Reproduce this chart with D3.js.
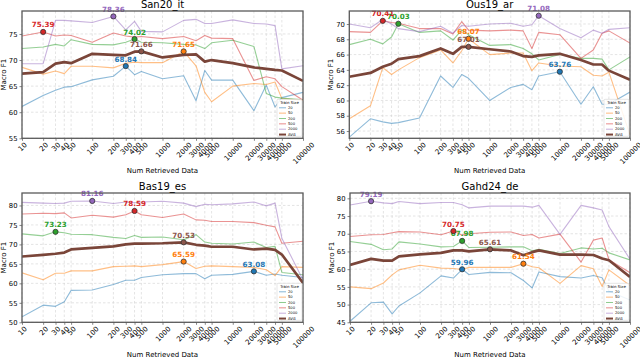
<!DOCTYPE html>
<meta charset="utf-8">
<script src="https://cdn.jsdelivr.net/npm/d3@7"></script>
<title>Train size vs retrieved data</title>
<style>
body { margin: 0; background: #fff; font-family: "DejaVu Sans", sans-serif; }
text { fill: #000; }
.grid line { stroke: #d2d2d2; stroke-width: 0.6; stroke-dasharray: 2.5,2; }
.frame { fill: none; stroke: #5a5a5a; stroke-width: 1.3; }
</style>
<body>
<svg id="chart" width="640" height="358"></svg>
<script>

var retrieved = [10, 20, 30, 40, 50, 100, 200, 300, 400, 500, 1000, 2000, 3000, 4000, 5000, 10000, 20000, 30000, 40000, 50000, 100000];
var trainSizes = ["20", "50", "200", "500", "2000", "AVG"];

var san20_20   = [61.1, 63.2, 64.2, 64.8, 64.9, 66.2, 66.9, 68.84, 67.2, 67.8, 66.4, 67.0, 62.2, 68.0, 66.15, 66.15, 60.3, 65.2, 61.0, 62.8, 63.8];
var san20_50   = [68.6, 67.3, 67.9, 67.4, 68.8, 68.8, 68.5, 69.4, 69.6, 69.5, 69.5, 71.65, 68.9, 63.8, 62.0, 65.0, 65.5, 65.3, 65.8, 62.6, 62.3];
var san20_200  = [72.2, 72.5, 73.0, 72.7, 73.9, 73.0, 72.9, 73.4, 74.02, 73.4, 73.3, 73.0, 72.9, 72.2, 73.3, 73.8, 72.6, 63.6, 62.9, 62.7, 62.4];
var san20_500  = [74.6, 75.39, 74.6, 74.8, 74.7, 73.4, 75.2, 74.6, 74.4, 74.5, 74.1, 74.5, 73.7, 74.7, 74.2, 74.1, 66.1, 66.8, 66.4, 64.9, 62.3];
var san20_2000 = [69.3, 69.3, 77.6, 77.6, 77.5, 77.2, 78.36, 75.8, 77.4, 75.5, 75.4, 77.6, 77.8, 77.0, 77.0, 77.7, 77.0, 76.9, 76.6, 68.3, 68.9];
var san20_avg  = [67.4, 67.7, 69.3, 69.6, 69.4, 71.2, 71.0, 70.9, 71.6, 71.66, 70.5, 71.0, 71.1, 69.7, 70.0, 69.4, 68.6, 68.3, 68.1, 68.0, 66.0];

var ous19_20   = [55.2, 57.6, 57.2, 57.0, 57.1, 57.7, 63.2, 61.7, 63.4, 62.9, 60.0, 61.7, 62.1, 61.4, 63.2, 63.76, 59.5, 61.8, 59.5, 59.5, 61.1];
var ous19_50   = [57.6, 59.3, 64.3, 63.4, 64.0, 65.6, 66.6, 64.9, 66.5, 68.07, 66.0, 66.2, 66.2, 63.9, 64.9, 64.5, 64.4, 63.3, 63.2, 63.7, 55.5];
var ous19_200  = [67.3, 68.0, 67.4, 68.3, 70.03, 68.9, 69.1, 67.9, 69.2, 68.6, 67.2, 67.3, 66.8, 66.1, 65.3, 66.0, 65.5, 65.5, 65.4, 64.0, 65.7];
var ous19_500  = [69.0, 68.9, 70.41, 70.2, 70.1, 69.4, 69.4, 68.7, 70.3, 69.2, 69.1, 69.2, 69.1, 66.8, 68.9, 68.6, 65.5, 66.6, 68.8, 69.1, 67.5];
var ous19_2000 = [70.0, 69.5, 70.6, 70.0, 69.4, 69.0, 69.7, 68.8, 69.8, 69.7, 70.0, 70.1, 69.7, 69.9, 71.08, 69.4, 68.2, 69.2, 68.8, 69.3, 69.5];
var ous19_avg  = [63.1, 63.6, 64.4, 64.8, 65.4, 65.8, 66.8, 66.1, 67.0, 67.01, 66.7, 66.4, 65.8, 65.7, 65.9, 66.1, 65.3, 64.7, 64.7, 63.9, 62.7];

var bas19_20   = [51.4, 54.4, 54.1, 55.3, 58.2, 58.3, 59.7, 60.8, 60.8, 61.5, 62.2, 62.5, 62.5, 61.2, 62.1, 62.3, 63.08, 62.1, 62.4, 62.1, 61.5];
var bas19_50   = [62.7, 60.9, 62.6, 62.6, 63.2, 63.2, 64.3, 64.4, 64.5, 64.3, 64.8, 65.59, 63.8, 64.4, 64.5, 64.3, 64.1, 63.5, 62.0, 64.3, 64.1];
var bas19_200  = [72.7, 72.2, 73.23, 73.0, 72.6, 72.5, 71.8, 71.5, 72.3, 71.8, 71.9, 71.2, 72.5, 70.6, 70.3, 70.1, 70.6, 69.2, 69.5, 62.8, 62.2];
var bas19_500  = [77.8, 78.0, 77.9, 78.1, 76.8, 77.5, 77.0, 77.6, 78.59, 77.6, 76.9, 77.8, 76.3, 76.2, 75.9, 75.9, 75.6, 74.9, 74.5, 70.3, 70.8];
var bas19_2000 = [80.8, 80.6, 80.5, 80.6, 81.1, 81.16, 80.5, 80.9, 80.7, 80.9, 81.1, 80.6, 79.7, 80.3, 80.2, 80.4, 80.9, 79.9, 80.6, 71.6, 60.9];
var bas19_avg  = [66.9, 67.3, 67.6, 67.9, 68.7, 69.1, 69.5, 70.0, 70.2, 70.2, 70.3, 70.53, 69.9, 69.7, 69.4, 69.4, 68.7, 68.9, 68.6, 67.4, 60.1];

var gahd24_20   = [45.3, 50.5, 50.7, 47.4, 49.6, 53.3, 58.1, 57.5, 59.96, 58.5, 59.1, 59.0, 56.8, 54.7, 59.2, 57.9, 57.5, 58.2, 57.6, 53.8, 51.3];
var gahd24_50   = [55.0, 54.5, 56.1, 58.4, 59.8, 61.1, 60.3, 60.2, 59.9, 60.5, 60.5, 60.5, 61.54, 60.7, 60.4, 56.0, 61.0, 60.1, 55.1, 59.8, 55.4];
var gahd24_200  = [67.8, 67.0, 65.5, 65.7, 67.7, 67.1, 66.3, 66.4, 67.98, 66.1, 66.2, 66.3, 66.3, 65.2, 65.6, 64.4, 66.0, 65.7, 65.9, 64.6, 62.6];
var gahd24_500  = [69.2, 69.7, 69.8, 70.3, 70.6, 70.5, 69.7, 70.75, 69.6, 70.0, 70.4, 70.5, 69.5, 69.8, 68.8, 69.9, 62.0, 68.2, 68.8, 62.7, 59.0];
var gahd24_2000 = [78.1, 79.19, 78.7, 78.5, 79.1, 78.5, 78.8, 78.8, 78.2, 77.3, 77.8, 77.8, 77.8, 77.5, 78.0, 69.8, 78.0, 77.3, 76.7, 72.0, 62.8];
var gahd24_avg  = [61.2, 62.9, 62.4, 62.4, 63.6, 64.2, 64.6, 65.3, 65.3, 65.0, 65.61, 65.3, 63.9, 64.8, 65.3, 64.1, 64.1, 64.0, 63.0, 62.5, 57.8];

var san20Ticks  = [55, 60, 65, 70, 75];
var ous19Ticks  = [56, 58, 60, 62, 64, 66, 68, 70];
var bas19Ticks  = [50, 55, 60, 65, 70, 75, 80];
var gahd24Ticks = [45, 50, 55, 60, 65, 70, 75, 80];

var colors = ["#1f77b4", "#ff7f0e", "#2ca02c", "#d62728", "#9467bd", "#7a4539"];
var labelColors = ["#1f77b4", "#ff7f0e", "#2ca02c", "#d62728", "#9467bd", "#8c564b"];

var panels = [
  {title: "San20_it", series: [san20_20, san20_50, san20_200, san20_500, san20_2000, san20_avg],
   ticks: san20Ticks, domain: [55, 79.4], box: [22, 303, 11, 138.3]},
  {title: "Ous19_ar", series: [ous19_20, ous19_50, ous19_200, ous19_500, ous19_2000, ous19_avg],
   ticks: ous19Ticks, domain: [55.05, 71.7], box: [349.3, 630, 11, 138.3]},
  {title: "Bas19_es", series: [bas19_20, bas19_50, bas19_200, bas19_500, bas19_2000, bas19_avg],
   ticks: bas19Ticks, domain: [50, 83.2], box: [22, 303, 193, 322.3]},
  {title: "Gahd24_de", series: [gahd24_20, gahd24_50, gahd24_200, gahd24_500, gahd24_2000, gahd24_avg],
   ticks: gahd24Ticks, domain: [45, 81.5], box: [350, 630, 193, 322.3]}
];

var svg = d3.select("#chart");

panels.forEach(function(p, pi) {
  var x = d3.scaleLog().domain([10, 100000]).range([p.box[0], p.box[1]]),
      y = d3.scaleLinear().domain(p.domain).range([p.box[3], p.box[2]]);
  var g = svg.append("g");

  g.append("clipPath").attr("id", "clip" + pi)
    .append("rect")
      .attr("x", p.box[0]).attr("y", p.box[2])
      .attr("width", p.box[1] - p.box[0]).attr("height", p.box[3] - p.box[2]);

  // grid
  var grid = g.append("g").attr("class", "grid");
  grid.selectAll(".gx").data(retrieved).enter().append("line")
    .attr("x1", function(d) { return x(d); }).attr("x2", function(d) { return x(d); })
    .attr("y1", p.box[2]).attr("y2", p.box[3]);
  grid.selectAll(".gy").data(p.ticks).enter().append("line")
    .attr("x1", p.box[0]).attr("x2", p.box[1])
    .attr("y1", function(d) { return y(d); }).attr("y2", function(d) { return y(d); });

  // axes
  var xAxis = g.append("g")
      .attr("transform", "translate(0," + p.box[3] + ")")
      .call(d3.axisBottom(x).tickValues(retrieved).tickFormat(d3.format("d")).tickSize(2.5).tickPadding(3));
  xAxis.select(".domain").remove();
  xAxis.selectAll("line").attr("stroke", "#333").attr("stroke-width", 0.6);
  xAxis.selectAll("text")
    .attr("font-size", "7.1px")
    .attr("font-family", "DejaVu Sans")
    .attr("text-anchor", "middle")
    .attr("dy", null)
    .attr("y", 0)
    .attr("transform", function() {
      var len = this.getComputedTextLength();
      var c = 3.5 + (len + 5) * 0.707 / 2;
      return "translate(0," + c + ") rotate(-45)";
    })
    .attr("dominant-baseline", "central");

  var yAxis = g.append("g")
      .attr("transform", "translate(" + p.box[0] + ",0)")
      .call(d3.axisLeft(y).tickValues(p.ticks).tickSize(2.5).tickPadding(2));
  yAxis.select(".domain").remove();
  yAxis.selectAll("line").attr("stroke", "#333").attr("stroke-width", 0.6);
  yAxis.selectAll("text").attr("font-size", "6.8px").attr("font-family", "DejaVu Sans");

  // lines
  var line = d3.line()
      .x(function(d, i) { return x(retrieved[i]); })
      .y(function(d) { return y(d); });

  g.append("g").attr("clip-path", "url(#clip" + pi + ")")
    .selectAll("path")
      .data(p.series)
    .enter().append("path")
      .attr("d", line)
      .attr("fill", "none")
      .attr("stroke", function(d, i) { return colors[i]; })
      .attr("stroke-width", function(d, i) { return i == 5 ? 2.7 : 1.1; })
      .attr("stroke-opacity", function(d, i) { return i == 5 ? 1 : 0.5; })
      .attr("stroke-linejoin", "round");

  // best point of each series
  p.series.forEach(function(s, si) {
    var bi = d3.maxIndex(s);
    g.append("circle")
      .attr("cx", x(retrieved[bi])).attr("cy", y(s[bi])).attr("r", 2.6)
      .attr("fill", labelColors[si]).attr("stroke", "#333").attr("stroke-width", 0.8);
    g.append("text")
      .attr("x", x(retrieved[bi])).attr("y", y(s[bi]) - 4.5)
      .attr("text-anchor", "middle")
      .attr("font-size", "7.2px").attr("font-weight", "bold")
      .style("fill", labelColors[si])
      .text(s[bi].toFixed(2));
  });

  g.append("rect").attr("class", "frame")
    .attr("x", p.box[0]).attr("y", p.box[2])
    .attr("width", p.box[1] - p.box[0]).attr("height", p.box[3] - p.box[2]);

  // legend
  var lw = 25, lh = 37,
      lx = p.box[1] - lw - 1, ly = p.box[3] - lh - 2;
  var leg = g.append("g").attr("transform", "translate(" + lx + "," + ly + ")");
  leg.append("rect").attr("width", lw).attr("height", lh).attr("rx", 1)
    .attr("fill", "#fff").attr("fill-opacity", 0.85).attr("stroke", "#ccc").attr("stroke-width", 0.5);
  leg.append("text").attr("x", lw / 2).attr("y", 4.6).attr("text-anchor", "middle")
    .attr("font-size", "3.9px").text("Train Size");
  trainSizes.forEach(function(t, i) {
    var yy = 8.5 + i * 5.35;
    leg.append("line").attr("x1", 2).attr("x2", 9).attr("y1", yy).attr("y2", yy)
      .attr("stroke", colors[i]).attr("stroke-width", i == 5 ? 2 : 0.9)
      .attr("stroke-opacity", i == 5 ? 1 : 0.6);
    leg.append("text").attr("x", 11).attr("y", yy + 1.3).attr("font-size", "3.7px").text(t);
  });

  g.append("text")
    .attr("x", (p.box[0] + p.box[1]) / 2).attr("y", p.box[2] - 3)
    .attr("text-anchor", "middle").attr("font-size", "10px")
    .text(p.title);

  g.append("text")
    .attr("x", (p.box[0] + p.box[1]) / 2).attr("y", p.box[3] + 35)
    .attr("text-anchor", "middle").attr("font-size", "7px")
    .text("Num Retrieved Data");

  g.append("text")
    .attr("transform", "translate(" + (p.box[0] - 16.5) + "," + ((p.box[2] + p.box[3]) / 2) + ") rotate(-90)")
    .attr("text-anchor", "middle").attr("font-size", "7px")
    .text("Macro F1");
});

</script>
</body>
